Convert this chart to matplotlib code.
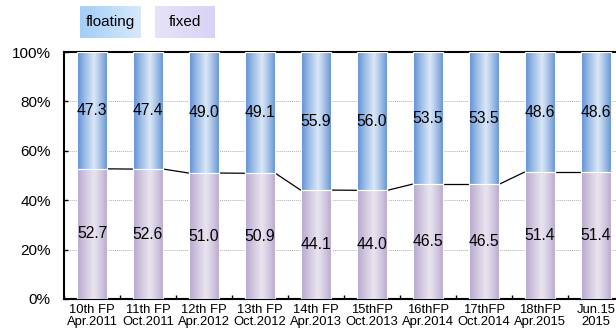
import numpy as np
import matplotlib.pyplot as plt
from matplotlib.colors import to_rgb

plt.rcParams['font.family'] = ['Liberation Sans', 'DejaVu Sans']

# Interest rate mix per fiscal period (%)
periods = ['10th FP\nApr.2011', '11th FP\nOct.2011', '12th FP\nApr.2012', '13th FP\nOct.2012',
           '14th FP\nApr.2013', '15thFP\nOct.2013', '16thFP\nApr.2014', '17thFP\nOct.2014',
           '18thFP\nApr.2015', 'Jun.15\n2015']
fixed = [52.7, 52.6, 51.0, 50.9, 44.1, 44.0, 46.5, 46.5, 51.4, 51.4]
floating = [47.3, 47.4, 49.0, 49.1, 55.9, 56.0, 53.5, 53.5, 48.6, 48.6]


def gradient(edge, mid, n=64, peak=0.55):
    t = np.linspace(0, 1, n)
    f = np.where(t < peak, t / peak, (1 - t) / (1 - peak))
    f = f ** 0.8
    e, m = np.array(to_rgb(edge)), np.array(to_rgb(mid))
    return (e[None, :] * (1 - f[:, None]) + m[None, :] * f[:, None])[None, :, :]


blue_grad = gradient('#568ad4', '#dae7f6')
purple_grad = gradient('#b3a3cb', '#e9e4f0')

fig = plt.figure(figsize=(6.16, 3.29), dpi=100)
ax = fig.add_axes([64 / 616, 30 / 329, 560 / 616, 247 / 329])

x = np.arange(len(periods))
w = 0.55
b1 = ax.bar(x, fixed, w, color='#cfc3e0', edgecolor='white', lw=0.8, zorder=3)
b2 = ax.bar(x, floating, w, bottom=fixed, color='#9dbde8', edgecolor='white', lw=0.8, zorder=3)

# gradient fill over each bar segment
for bars, grad in ((b1, purple_grad), (b2, blue_grad)):
    for p in bars:
        x0, y0 = p.get_x(), p.get_y()
        ax.imshow(grad, extent=(x0, x0 + p.get_width(), y0, y0 + p.get_height()),
                  aspect='auto', zorder=3.5, interpolation='bilinear')
    for p in bars:
        ax.add_patch(plt.Rectangle((p.get_x(), p.get_y()), p.get_width(), p.get_height(),
                                   fill=False, edgecolor='white', lw=0.8, zorder=4))

# connector lines between bars
for i in range(len(x) - 1):
    ax.plot([x[i] + w / 2, x[i + 1] - w / 2], [fixed[i], fixed[i + 1]],
            color='black', lw=0.9, zorder=2)

for i in range(len(x)):
    ax.text(x[i], fixed[i] / 2, f'{fixed[i]:.1f}', ha='center', va='center',
            fontsize=11.3, zorder=5)
    ax.text(x[i], fixed[i] + floating[i] / 2, f'{floating[i]:.1f}', ha='center',
            va='center', fontsize=11.3, zorder=5)

ax.set_xlim(-0.5, len(x) - 0.5)
ax.set_ylim(0, 100)
ax.set_yticks(range(0, 101, 20))
ax.set_yticklabels([f'{v}%' for v in range(0, 101, 20)], fontsize=11)
ax.yaxis.grid(True, color='#b0b0b0', ls=(0, (1, 1)), lw=0.7)
ax.set_axisbelow(True)
ax.set_xticks(x)
ax.set_xticklabels(periods, fontsize=9.4, linespacing=1.0)
ax.set_xticks(np.arange(-0.5, len(x)), minor=True)
ax.tick_params(axis='x', which='major', length=0, pad=3.5)
ax.tick_params(axis='x', which='minor', length=3, direction='in', width=1)
ax.tick_params(axis='y', length=3, direction='in', width=1, pad=9.5)
for s in ('left', 'bottom', 'top'):
    ax.spines[s].set_linewidth(1.5)
ax.spines['right'].set_visible(False)

# legend boxes
for (x0, label, c1, c2) in ((80, 'floating', '#a4cdf7', '#d6e9fb'),
                            (155, 'fixed', '#e6e3f8', '#d8d3f6')):
    lax = fig.add_axes([x0 / 616, 1 - 38 / 329, 60 / 616, 32 / 329])
    t = np.linspace(0, 1, 64)
    a, b = np.array(to_rgb(c1)), np.array(to_rgb(c2))
    lax.imshow((a[None, :] * (1 - t[:, None]) + b[None, :] * t[:, None])[None],
               extent=(0, 1, 0, 1), aspect='auto')
    lax.text(0.5, 0.5, label, ha='center', va='center', fontsize=11)
    lax.set_axis_off()

fig.savefig('out.png', dpi=100)
